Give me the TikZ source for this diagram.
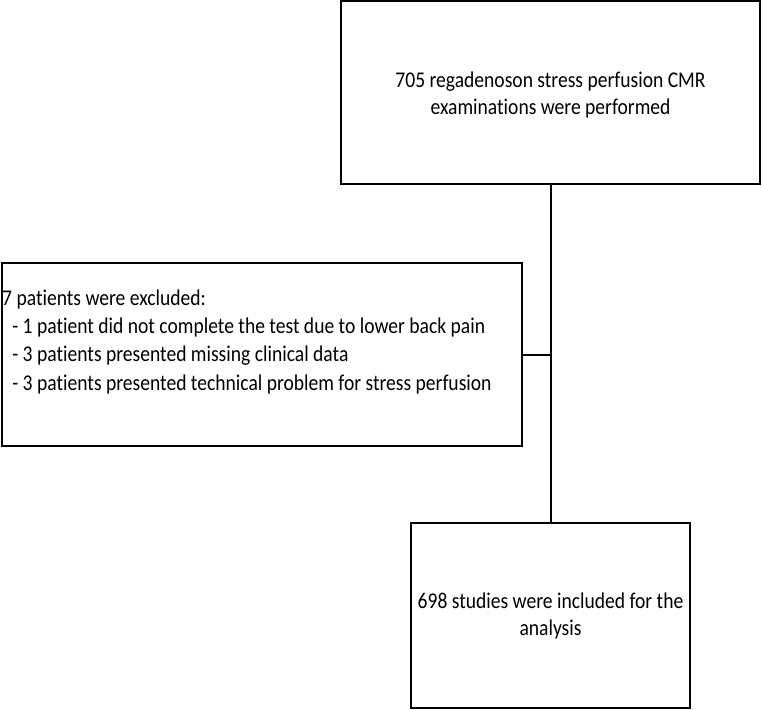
\documentclass[tikz,border=0pt]{standalone}
\usepackage{fontspec}
\setmainfont[FakeStretch=0.87,Ligatures=NoCommon]{Carlito}
\begin{document}
\begin{tikzpicture}[x=1pt,y=-1pt,
  box/.style={draw=black, line width=2pt, rectangle, inner sep=0pt},
  txt/.style={font=\fontsize{22.5}{27}\selectfont, inner sep=0pt},
  ltxt/.style={font=\fontsize{22.5}{28.3}\selectfont, inner sep=0pt},
  conn/.style={draw=black, line width=2pt}]
\useasboundingbox (0,0) rectangle (762,709);
\node[box, minimum width=419pt, minimum height=183pt] (top) at (550.5,92.5) {};
\node[txt, align=center] (toptxt) at ([yshift=-2.5pt]top.center) {705 regadenoson stress perfusion CMR\\examinations were performed};
\node[box, minimum width=520pt, minimum height=183pt] (ex) at (261.5,354.5) {};
\node[ltxt, align=left, anchor=north west] (extxt) at ([shift={(1.5,27.5)}]ex.north west) {7 patients were excluded:\\\hspace*{0.45em}- 1 patient did not complete the test due to lower back pain\\\hspace*{0.45em}- 3 patients presented missing clinical data\\\hspace*{0.45em}- 3 patients presented technical problem for stress perfusion};
\node[box, minimum width=279pt, minimum height=185pt] (inc) at (550.5,615.5) {};
\node[txt, align=center] (inctxt) at (inc.center) {698 studies were included for the\\analysis};
\draw[conn] (top.south) -- (inc.north);
\draw[conn] (ex.east) -- (ex.east -| top.south);
\end{tikzpicture}
\end{document}
